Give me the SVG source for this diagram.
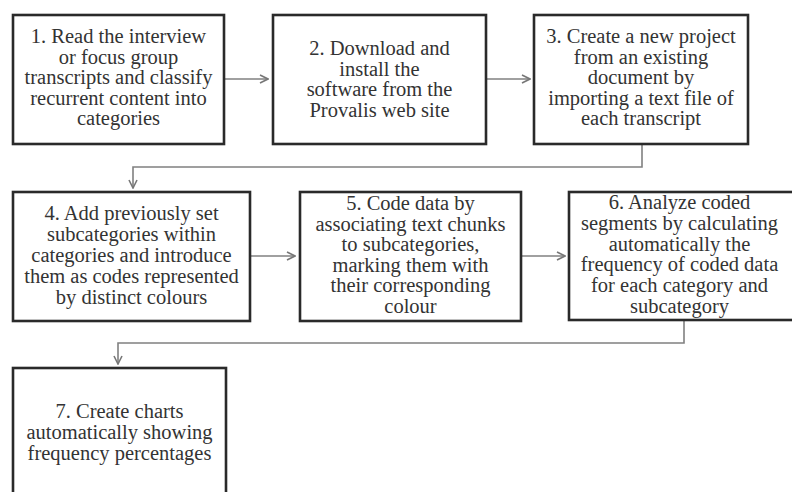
<svg xmlns="http://www.w3.org/2000/svg" width="792" height="492" viewBox="0 0 792 492">
<defs>
<marker id="arr" viewBox="0 0 10 10" refX="9" refY="5" markerWidth="10" markerHeight="10" markerUnits="userSpaceOnUse" orient="auto">
<path d="M1,1 L9,5 L1,9" fill="none" stroke="#777" stroke-width="1.6"/>
</marker>
<style>
.box{fill:#fff;stroke:#2a2a2a;stroke-width:2.6}
.t{font-family:"Liberation Serif","Times New Roman",serif;font-size:20.5px;fill:#333;text-anchor:middle}
.c{fill:none;stroke:#808080;stroke-width:1.6}
</style>
</defs>
<rect width="792" height="492" fill="#fff"/>
<g id="connectors">
<path class="c" d="M224,79 H268" marker-end="url(#arr)"/>
<path class="c" d="M486,79 H530" marker-end="url(#arr)"/>
<path class="c" d="M642,144 V167 H133 V188" marker-end="url(#arr)"/>
<path class="c" d="M250,256 H295" marker-end="url(#arr)"/>
<path class="c" d="M521,256 H565" marker-end="url(#arr)"/>
<path class="c" d="M684,320 V343 H118 V364" marker-end="url(#arr)"/>
</g>
<g id="n1">
<rect class="box" x="13" y="15" width="211" height="129"/>
<text class="t" x="118.5" y="43">1. Read the interview</text>
<text class="t" x="118.5" y="63.5">or focus group</text>
<text class="t" x="118.5" y="84">transcripts and classify</text>
<text class="t" x="118.5" y="104.5">recurrent content into</text>
<text class="t" x="118.5" y="125">categories</text>
</g>
<g id="n2">
<rect class="box" x="273" y="15" width="213" height="129"/>
<text class="t" x="379.5" y="55">2. Download and</text>
<text class="t" x="379.5" y="75.5">install the</text>
<text class="t" x="379.5" y="96">software from the</text>
<text class="t" x="379.5" y="116.5">Provalis web site</text>
</g>
<g id="n3">
<rect class="box" x="534" y="15" width="214" height="129"/>
<text class="t" x="641" y="43">3. Create a new project</text>
<text class="t" x="641" y="63.5">from an existing</text>
<text class="t" x="641" y="84">document by</text>
<text class="t" x="641" y="104.5">importing a text file of</text>
<text class="t" x="641" y="125">each transcript</text>
</g>
<g id="n4">
<rect class="box" x="13" y="192" width="237" height="129"/>
<text class="t" x="131.5" y="220">4. Add previously set</text>
<text class="t" x="131.5" y="241">subcategories within</text>
<text class="t" x="131.5" y="262">categories and introduce</text>
<text class="t" x="131.5" y="283">them as codes represented</text>
<text class="t" x="131.5" y="304">by distinct colours</text>
</g>
<g id="n5">
<rect class="box" x="300" y="192" width="221" height="129"/>
<text class="t" x="410.5" y="210">5. Code data by</text>
<text class="t" x="410.5" y="230.6">associating text chunks</text>
<text class="t" x="410.5" y="251.2">to subcategories,</text>
<text class="t" x="410.5" y="271.8">marking them with</text>
<text class="t" x="410.5" y="292.4">their corresponding</text>
<text class="t" x="410.5" y="313">colour</text>
</g>
<g id="n6">
<rect class="box" x="569" y="192" width="230" height="128"/>
<text class="t" x="679.5" y="209">6. Analyze coded</text>
<text class="t" x="679.5" y="229.8">segments by calculating</text>
<text class="t" x="679.5" y="250.6">automatically the</text>
<text class="t" x="679.5" y="271.4">frequency of coded data</text>
<text class="t" x="679.5" y="292.2">for each category and</text>
<text class="t" x="679.5" y="313">subcategory</text>
</g>
<g id="n7">
<rect class="box" x="13" y="368" width="213" height="140"/>
<text class="t" x="119.5" y="418">7. Create charts</text>
<text class="t" x="119.5" y="439">automatically showing</text>
<text class="t" x="119.5" y="460">frequency percentages</text>
</g>
</svg>
